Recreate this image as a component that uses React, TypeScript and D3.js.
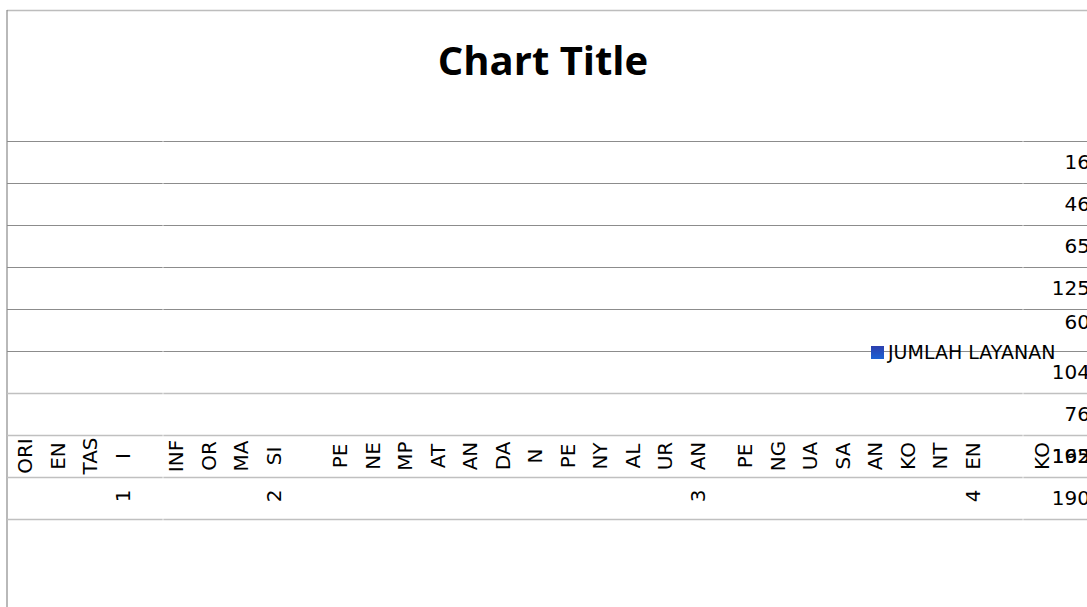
import React from "react";
import * as d3 from "d3";

const WIDTH = 1087;
const HEIGHT = 607;

// values printed at the right edge, one per row (top to bottom)
const rowValues = ["16", "46", "65", "125", "60", "104", "76", "192", "190"];
const overlapValue = "165"; // second label drawn over row 8
const legendLabel = "JUMLAH LAYANAN";
const title = "Chart Title";

// wrapped category labels as Excel broke them
const labelLines: string[][] = [
  ["ORI", "EN", "TAS", "I"],
  ["INF", "OR", "MA", "SI"],
  ["PE", "NE", "MP", "AT", "AN", "DA", "N", "PE", "NY", "AL", "UR", "AN"],
  ["PE", "NG", "UA", "SA", "AN", "KO", "NT", "EN"],
  ["KO"],
];
const categoryNumbers = ["1", "2", "3", "4"];

// spacing between label groups, in line units
const groupGaps = [0, 1.65, 2.04, 1.46, 2.14];

const FONT = "'DejaVu Sans', sans-serif";

const App = () => {
  const y = d3.scaleBand<number>().domain(d3.range(rowValues.length)).range([141, 519]);
  const slot = d3.scaleLinear().domain([0, 1]).range([25, 57.5]);

  // slot index of every wrapped line
  let cursor = 0;
  const groups = labelLines.map((lines, i) => {
    cursor += groupGaps[i];
    const start = cursor;
    cursor += lines.length - 1;
    return { lines, start, end: cursor };
  });

  const gridYs = d3.range(rowValues.length + 1).map((i) =>
    i < rowValues.length ? y(i)! : y(rowValues.length - 1)! + y.bandwidth()
  );

  const fs = 20;
  const capH = fs * 0.73;
  const labelRow = 7;
  const numberRow = 8;
  const legendRow = 5;

  return (
    <>
      <style>{"body{margin:0;overflow:hidden}"}</style>
      <svg width={WIDTH} height={HEIGHT} style={{ display: "block", background: "#fff" }}>
        <line x1={7} x2={WIDTH} y1={10.5} y2={10.5} stroke="#bdbdbd" strokeWidth={1.5} />
        <line x1={7} x2={7} y1={10} y2={HEIGHT} stroke="#8a8a8a" strokeWidth={1.2} />

        {gridYs.map((gy, i) => (
          <line
            key={i}
            x1={7}
            x2={WIDTH}
            y1={gy + 0.5}
            y2={gy + 0.5}
            stroke={i <= 5 ? "#8c8c8c" : "#c0c0c0"}
            strokeWidth={i <= 5 ? 1.2 : 1.5}
          />
        ))}
        {[163, 1023].map((x) => (
          <line key={x} x1={x} x2={x} y1={130} y2={530} stroke="#fff" strokeWidth={1} opacity={0.7} />
        ))}

        <text
          x={543}
          y={75}
          textAnchor="middle"
          fontFamily="'Open Sans', sans-serif"
          fontWeight={700}
          fontSize={40}
          fill="#000"
        >
          {title}
        </text>

        {rowValues.map((v, i) => (
          <text
            key={i}
            x={1090}
            y={y(i)! + y.bandwidth() / 2 + capH / 2 - (i === legendRow - 1 ? 8 : 0)}
            textAnchor="end"
            fontFamily={FONT}
            fontSize={fs}
            fill="#000"
          >
            {v}
          </text>
        ))}
        <text
          x={1090}
          y={y(labelRow)! + y.bandwidth() / 2 + capH / 2}
          textAnchor="end"
          fontFamily={FONT}
          fontSize={fs}
          fill="#000"
        >
          {overlapValue}
        </text>

        {groups.map((g, gi) =>
          g.lines.map((t, li) => {
            const cx = slot(g.start + li);
            const cy = y(labelRow)! + y.bandwidth() / 2;
            return (
              <text
                key={`${gi}-${li}`}
                transform={`translate(${cx + capH / 2},${cy}) rotate(-90)`}
                textAnchor="middle"
                fontFamily={FONT}
                fontSize={fs}
                fill="#000"
              >
                {t}
              </text>
            );
          })
        )}
        {categoryNumbers.map((n, i) => {
          const cx = slot(groups[i].end);
          const cy = y(numberRow)! + y.bandwidth() / 2 - 2;
          return (
            <text
              key={n}
              transform={`translate(${cx + capH / 2},${cy}) rotate(-90)`}
              textAnchor="middle"
              fontFamily={FONT}
              fontSize={fs}
              fill="#000"
            >
              {n}
            </text>
          );
        })}

        <defs>
          <linearGradient id="lg" x1="0" y1="0" x2="0" y2="1">
            <stop offset="0" stopColor="#2c3fae" />
            <stop offset="1" stopColor="#1c62d4" />
          </linearGradient>
        </defs>
        <rect x={871} y={y(legendRow)! - 5} width={13} height={13} fill="url(#lg)" />
        <text
          x={888}
          y={y(legendRow)! + 1 + 7}
          fontFamily={FONT}
          fontSize={19}
          fill="#000"
        >
          {legendLabel}
        </text>
      </svg>
    </>
  );
};

export default App;
